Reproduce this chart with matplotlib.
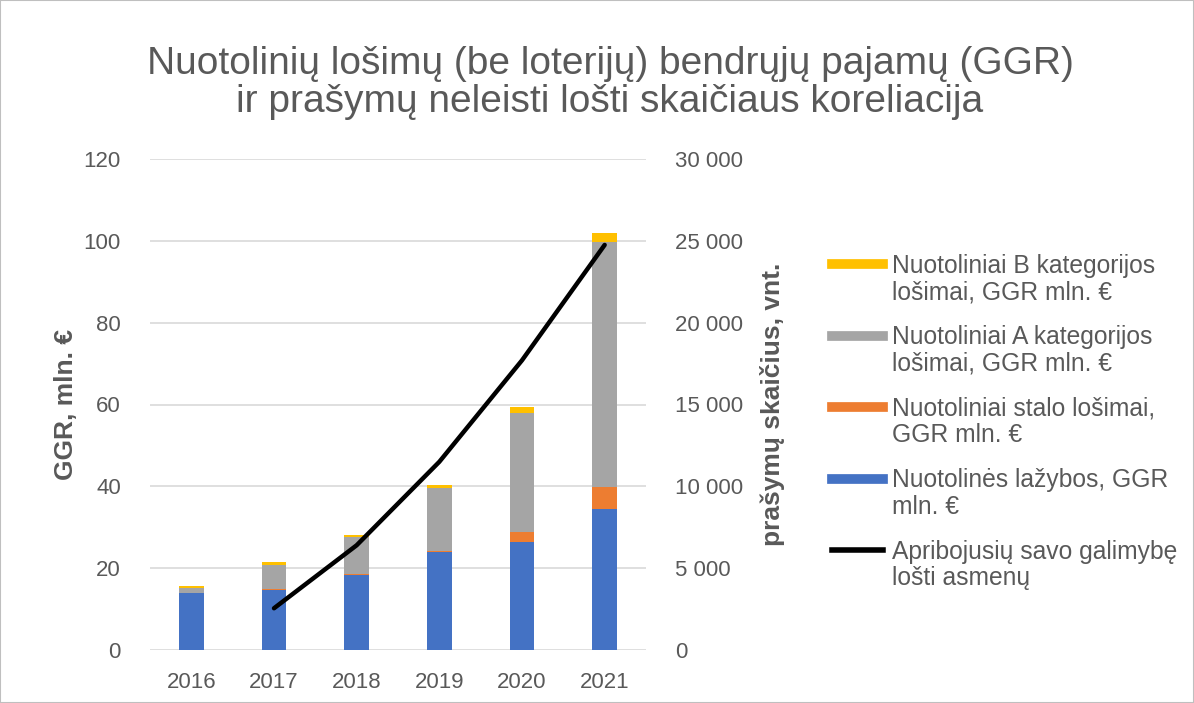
import matplotlib
matplotlib.use("Agg")
import matplotlib.pyplot as plt
from matplotlib.lines import Line2D
from matplotlib.ticker import FuncFormatter
import numpy as np

years = ["2016", "2017", "2018", "2019", "2020", "2021"]
lazybos = [13.9, 14.7, 18.3, 23.9, 26.5, 34.4]
stalo = [0.0, 0.3, 0.2, 0.3, 2.3, 5.5]
a_kat = [1.2, 5.8, 9.0, 15.3, 29.2, 59.9]
b_kat = [0.5, 0.8, 0.6, 0.8, 1.3, 2.2]
line_years = ["2017", "2018", "2019", "2020", "2021"]
asmenys = [2550, 6400, 11500, 17700, 24750]

labels = [
    "Nuotoliniai B kategorijos\nlošimai, GGR mln. €",
    "Nuotoliniai A kategorijos\nlošimai, GGR mln. €",
    "Nuotoliniai stalo lošimai,\nGGR mln. €",
    "Nuotolinės lažybos, GGR\nmln. €",
    "Apribojusių savo galimybę\nlošti asmenų",
]
title = "Nuotolinių lošimų (be loterijų) bendrųjų pajamų (GGR)\nir prašymų neleisti lošti skaičiaus koreliacija"

C_BLUE, C_ORANGE, C_GRAY, C_YELLOW = "#4472C4", "#ED7D31", "#A5A5A5", "#FFC000"
TXT = "#595959"
plt.rcParams["font.family"] = ["Liberation Sans", "DejaVu Sans"]

W, H = 1194, 703
fig = plt.figure(figsize=(W / 100, H / 100), dpi=100)
ax = fig.add_axes([150 / W, 1 - 650 / H, 496 / W, (650 - 159) / H])
ax2 = ax.twinx()

x = np.arange(len(years))
bw = 0.3
b1 = np.array(lazybos)
b2 = b1 + np.array(stalo)
b3 = b2 + np.array(a_kat)
ax.bar(x, lazybos, bw, color=C_BLUE, zorder=3)
ax.bar(x, stalo, bw, bottom=b1, color=C_ORANGE, zorder=3)
ax.bar(x, a_kat, bw, bottom=b2, color=C_GRAY, zorder=3)
ax.bar(x, b_kat, bw, bottom=b3, color=C_YELLOW, zorder=3)

lx = [years.index(y) for y in line_years]
ax2.plot(lx, asmenys, color="black", lw=3.2, solid_capstyle="round", zorder=5)

ax.set_xlim(-0.5, 5.5)
ax.set_ylim(0, 120)
ax.set_yticks(range(0, 121, 20))
ax2.set_ylim(0, 30000)
ax2.set_yticks(range(0, 30001, 5000))
ax2.yaxis.set_major_formatter(FuncFormatter(lambda v, p: f"{int(v):,}".replace(",", " ")))
ax.set_xticks(x)
ax.set_xticklabels(years)
ax.yaxis.grid(True, color="#D9D9D9", lw=1.2, zorder=0)
ax.set_axisbelow(True)
for a in (ax, ax2):
    for s in a.spines.values():
        s.set_visible(False)
    a.tick_params(length=0, labelsize=16, labelcolor=TXT)
ax.tick_params(axis="y", pad=21)
ax.tick_params(axis="x", pad=16)
ax2.tick_params(axis="y", pad=21)
ax.set_ylabel("GGR, mln. €", fontsize=19, fontweight="bold", color=TXT, labelpad=4)
ax2.set_ylabel("prašymų skaičius, vnt.", fontsize=19, fontweight="bold", color=TXT, labelpad=12)

fig.text(610 / W, 1 - 83 / H, title, ha="center", va="center", fontsize=28,
         color=TXT, linespacing=1.1)

# legend drawn manually so each handle sits on the first line of its label
handle_colors = [C_YELLOW, C_GRAY, C_ORANGE, C_BLUE, "black"]
handle_widths = [7, 7, 7, 7, 4]
for i, (lab, col, lw) in enumerate(zip(labels, handle_colors, handle_widths)):
    yh = 264 + 71.5 * i
    fig.add_artist(Line2D([832 / W, 883 / W], [1 - yh / H, 1 - yh / H], color=col, lw=lw,
                          transform=fig.transFigure))
    fig.text(892 / W, 1 - (yh + 15) / H, lab, ha="left", va="center", fontsize=17.7,
             color=TXT, linespacing=1.12)

fig.patches.append(plt.Rectangle((0, 0), 1, 1, transform=fig.transFigure, fill=False,
                                 edgecolor="#BFBFBF", lw=1.5))
fig.savefig("out.png", dpi=100, facecolor="white")
